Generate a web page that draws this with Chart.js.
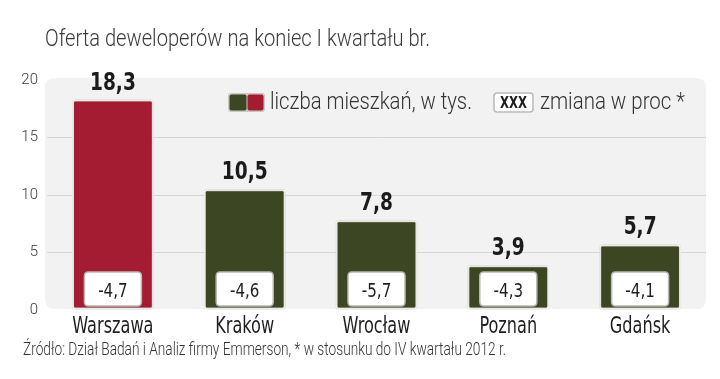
<!DOCTYPE html>
<html>
<head>
<meta charset="utf-8">
<script src="https://cdn.jsdelivr.net/npm/chart.js@4/dist/chart.umd.min.js"></script>
<style>
html,body{margin:0;padding:0;background:#fff;}
#wrap{position:relative;width:720px;height:379px;}
canvas{display:block;}
</style>
</head>
<body>
<div id="wrap"><canvas id="c" width="720" height="379"></canvas></div>
<script>
const categories = ['Warszawa', 'Kraków', 'Wrocław', 'Poznań', 'Gdańsk'];
const values = [18.3, 10.5, 7.8, 3.9, 5.7];
const changes = [-4.7, -4.6, -5.7, -4.3, -4.1];
const barColors = ['#a31c32', '#3d4623', '#3d4623', '#3d4623', '#3d4623'];
const yTicks = [0, 5, 10, 15, 20];
const titleText = 'Oferta deweloperów na koniec I kwartału br.';
const sourceText = 'Źródło: Dział Badań i Analiz firmy Emmerson, * w stosunku do IV kwartału 2012 r.';
const legendText1 = 'liczba mieszkań, w tys.';
const legendText2 = 'zmiana w proc *';

const NARROW = "'Liberation Sans Narrow', 'DejaVu Sans Condensed', sans-serif";
const fmt = v => v.toFixed(1).replace('.', ',');

// draw text; scale horizontally either to a target width or by factor sf
function squeezeText(ctx, text, x, y, font, color, targetW, align, sf) {
  ctx.save();
  ctx.font = font;
  ctx.fillStyle = color;
  ctx.textBaseline = 'alphabetic';
  const w = ctx.measureText(text).width;
  const sx = targetW ? targetW / w : (sf || 1);
  let x0 = x;
  if (align === 'center') x0 = x - (w * sx) / 2;
  else if (align === 'right') x0 = x - w * sx;
  ctx.translate(x0, y);
  ctx.scale(sx, 1);
  ctx.textAlign = 'left';
  ctx.fillText(text, 0, 0);
  ctx.restore();
}

function rr(ctx, x, y, w, h, r) {
  ctx.beginPath();
  ctx.moveTo(x + r, y);
  ctx.lineTo(x + w - r, y);
  ctx.quadraticCurveTo(x + w, y, x + w, y + r);
  ctx.lineTo(x + w, y + h - r);
  ctx.quadraticCurveTo(x + w, y + h, x + w - r, y + h);
  ctx.lineTo(x + r, y + h);
  ctx.quadraticCurveTo(x, y + h, x, y + h - r);
  ctx.lineTo(x, y + r);
  ctx.quadraticCurveTo(x, y, x + r, y);
  ctx.closePath();
}

const panelPlugin = {
  id: 'panel',
  beforeDraw(chart) {
    const {ctx, chartArea: a} = chart;
    ctx.save();
    ctx.fillStyle = '#fff';
    ctx.fillRect(0, 0, chart.width, chart.height);
    rr(ctx, a.left - 2, a.top - 2, a.right - a.left + 2, a.bottom - a.top + 1, 10);
    ctx.fillStyle = '#f2f2f2';
    ctx.fill();
    ctx.restore();
  },
  beforeDatasetsDraw(chart) {
    const ctx = chart.ctx;
    ctx.save();
    ctx.shadowColor = 'rgba(0,0,0,0.28)';
    ctx.shadowBlur = 2;
  },
  afterDatasetsDraw(chart) {
    chart.ctx.restore();
  }
};

const annotPlugin = {
  id: 'annot',
  afterDatasetsDraw(chart) {
    const {ctx} = chart;
    const meta = chart.getDatasetMeta(0);
    const y = chart.scales.y;
    const x = chart.scales.x;
    const y0 = y.getPixelForValue(0);
    meta.data.forEach((bar, i) => {
      // value label
      squeezeText(ctx, fmt(values[i]), bar.x, bar.y - 10, "bold 24px " + NARROW, '#1b1b1b', null, 'center', 0.86);
      // change box
      const bw = 57, bh = 34;
      const bx = bar.x - bw / 2, by = y0 - 4 - bh;
      ctx.save();
      rr(ctx, bx, by, bw, bh, 4);
      ctx.fillStyle = '#ffffff';
      ctx.fill();
      ctx.lineWidth = 1.5;
      ctx.strokeStyle = '#b9b9b4';
      ctx.stroke();
      ctx.restore();
      squeezeText(ctx, fmt(changes[i]), bar.x, by + bh / 2 + 7.5, "20px " + NARROW, '#1e1e1e', null, 'center', 0.84);
      // category label from the x scale
      squeezeText(ctx, x.getLabelForValue(i), x.getPixelForValue(i), 333, "23px " + NARROW, '#1e1e1e', null, 'center', 0.78);
    });
  },
  afterDraw(chart) {
    const {ctx} = chart;
    // title
    squeezeText(ctx, titleText, 45, 46, "300 24px Roboto, " + NARROW, '#3a3a3a', 385, 'left');
    // source
    squeezeText(ctx, sourceText, 23, 355, "300 18px Roboto, " + NARROW, '#333', 483, 'left');
    // legend
    ctx.save();
    rr(ctx, 228, 93, 37, 19, 3);
    ctx.fillStyle = '#c9c9c4';
    ctx.fill();
    rr(ctx, 229.5, 94.5, 17, 16, 2);
    ctx.fillStyle = barColors[1];
    ctx.fill();
    rr(ctx, 247.5, 94.5, 16, 16, 2);
    ctx.fillStyle = barColors[0];
    ctx.fill();
    ctx.restore();
    squeezeText(ctx, legendText1, 270, 109, "300 23px Roboto, " + NARROW, '#333', 202, 'left');
    ctx.save();
    rr(ctx, 494, 93, 39, 19, 3);
    ctx.fillStyle = '#fff';
    ctx.fill();
    ctx.lineWidth = 1.5;
    ctx.strokeStyle = '#b9b9b4';
    ctx.stroke();
    ctx.restore();
    squeezeText(ctx, 'XXX', 513.5, 108, "bold 15px " + NARROW, '#1e1e1e', 27, 'center');
    squeezeText(ctx, legendText2, 540, 109, "300 23px Roboto, " + NARROW, '#333', 145, 'left');
  }
};

new Chart(document.getElementById('c'), {
  type: 'bar',
  data: {
    labels: categories,
    datasets: [{
      data: values,
      backgroundColor: barColors,
      borderColor: '#f4f4ee',
      borderWidth: 2,
      borderRadius: 3,
      borderSkipped: false,
      barPercentage: 0.62,
      categoryPercentage: 1.0
    }]
  },
  options: {
    responsive: false,
    animation: false,
    devicePixelRatio: 1,
    layout: {padding: {left: 0, right: 14, top: 80, bottom: 0}},
    plugins: {legend: {display: false}, tooltip: {enabled: false}, title: {display: false}},
    scales: {
      x: {
        grid: {display: false},
        border: {display: false},
        ticks: {display: false},
        afterFit(scale) { scale.height = 69; }
      },
      y: {
        min: 0, max: 20,
        afterBuildTicks(scale) { scale.ticks = yTicks.map(v => ({value: v})); },
        grid: {
          drawTicks: false,
          color: ctx => (ctx.tick && (ctx.tick.value === 0 || ctx.tick.value === 20)) ? 'rgba(0,0,0,0)' : '#d6d6d6',
          lineWidth: 1
        },
        border: {display: false},
        ticks: {
          color: '#3a3a3a',
          font: {family: "Roboto, sans-serif", size: 15, weight: 300},
          padding: 9
        },
        afterFit(scale) { scale.width = 47; }
      }
    }
  },
  plugins: [panelPlugin, annotPlugin]
});
</script>
</body>
</html>
